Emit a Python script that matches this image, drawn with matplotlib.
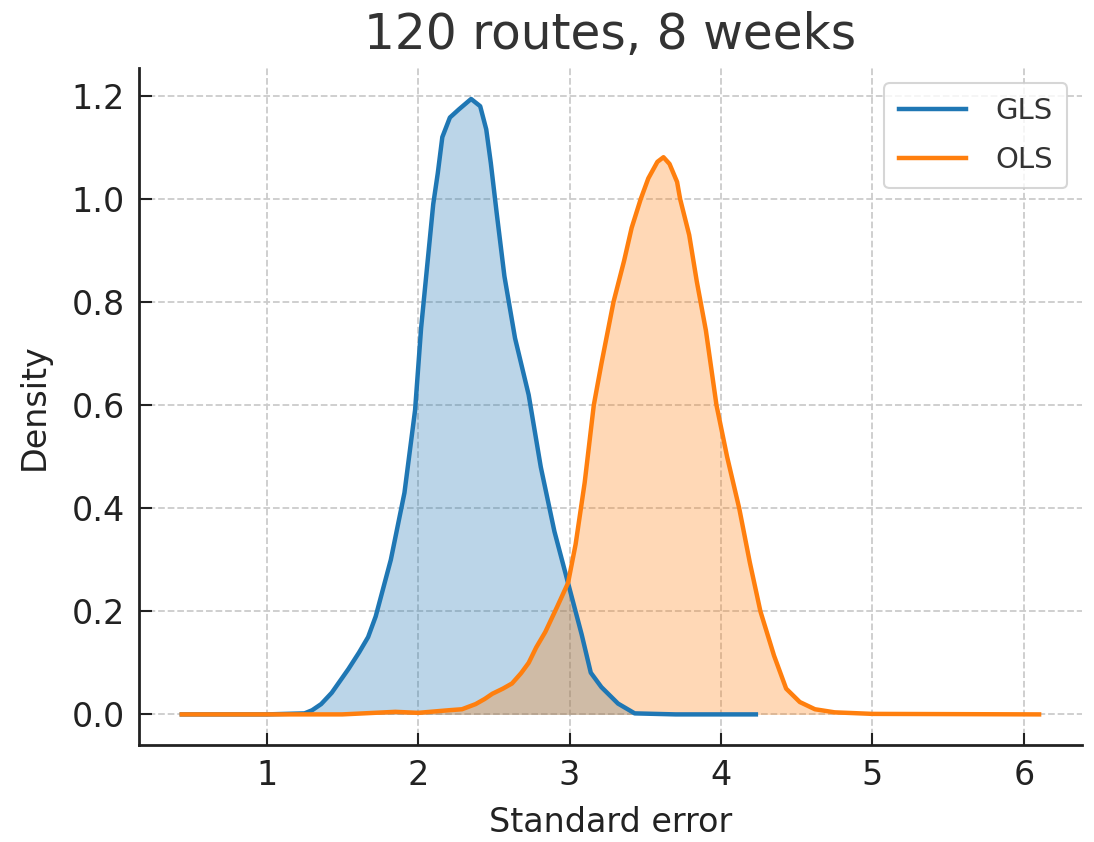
import matplotlib
matplotlib.use("Agg")
import matplotlib.pyplot as plt

# density curves
gls_x = [0.44, 1.00, 1.25, 1.30, 1.36, 1.43, 1.54, 1.61, 1.67, 1.72, 1.82, 1.91, 1.98,
         2.02, 2.07, 2.10, 2.13, 2.16, 2.21, 2.27, 2.35, 2.41, 2.45, 2.48, 2.52, 2.57,
         2.64, 2.73, 2.81, 2.90, 2.99, 3.08, 3.14, 3.21, 3.32, 3.43, 3.70, 4.23]
gls_y = [0.0, 0.0, 0.002, 0.008, 0.02, 0.042, 0.088, 0.12, 0.15, 0.19, 0.30, 0.43, 0.59,
         0.75, 0.90, 0.99, 1.05, 1.12, 1.158, 1.174, 1.194, 1.18, 1.135, 1.07, 0.97, 0.85,
         0.73, 0.62, 0.48, 0.355, 0.255, 0.155, 0.081, 0.053, 0.021, 0.002, 0.0, 0.0]

ols_x = [0.44, 1.50, 1.85, 2.00, 2.20, 2.29, 2.38, 2.44, 2.49, 2.56, 2.62, 2.68, 2.73,
         2.78, 2.84, 2.92, 2.99, 3.04, 3.10, 3.16, 3.21, 3.25, 3.29, 3.36, 3.41, 3.47,
         3.52, 3.58, 3.62, 3.66, 3.71, 3.73, 3.79, 3.84, 3.90, 3.97, 4.04, 4.12, 4.19,
         4.26, 4.35, 4.43, 4.52, 4.62, 4.75, 5.00, 6.10]
ols_y = [0.0, 0.0, 0.005, 0.003, 0.008, 0.01, 0.02, 0.03, 0.04, 0.05, 0.06, 0.08, 0.10,
         0.13, 0.16, 0.21, 0.255, 0.33, 0.45, 0.60, 0.68, 0.74, 0.80, 0.88, 0.944, 1.00,
         1.04, 1.072, 1.081, 1.068, 1.033, 1.00, 0.93, 0.84, 0.745, 0.60, 0.50, 0.40, 0.295,
         0.20, 0.114, 0.05, 0.024, 0.010, 0.004, 0.001, 0.0]

series = [("GLS", gls_x, gls_y, "#1f77b4"), ("OLS", ols_x, ols_y, "#ff7f0e")]

fig = plt.figure(figsize=(10.94, 8.42), dpi=100)
ax = fig.add_axes([0.127, 0.115, 0.862, 0.804])

for name, xs, ys, col in series:
    ax.plot(xs, ys, color=col, lw=3.2, label=name, solid_joinstyle="round")
    ax.fill_between(xs, ys, color=col, alpha=0.3, lw=0)

ax.set_title("120 routes, 8 weeks", fontsize=35, color="#333333", pad=14)
ax.set_xlabel("Standard error", fontsize=24, color="#222222", labelpad=10)
ax.set_ylabel("Density", fontsize=24, color="#222222", labelpad=15)

ax.set_xticks([1, 2, 3, 4, 5, 6])
ax.set_yticks([0.0, 0.2, 0.4, 0.6, 0.8, 1.0, 1.2])
ax.tick_params(direction="in", length=9, width=1.5, labelsize=24,
               labelcolor="#222222", color="#222222", pad=10)

ax.grid(True, linestyle="--", color="#cccccc", lw=1.3)
ax.set_axisbelow(True)
for s in ["top", "right"]:
    ax.spines[s].set_visible(False)
for s in ["left", "bottom"]:
    ax.spines[s].set_linewidth(2)
    ax.spines[s].set_color("#222222")

leg = ax.legend(loc="upper right", fontsize=21, handlelength=2.3, borderpad=0.5,
                labelspacing=0.7, handletextpad=1.0)
leg.get_frame().set_edgecolor("#cccccc")
leg.get_frame().set_linewidth(1.5)
for t in leg.get_texts():
    t.set_color("#333333")

fig.savefig("out.png", dpi=100)
